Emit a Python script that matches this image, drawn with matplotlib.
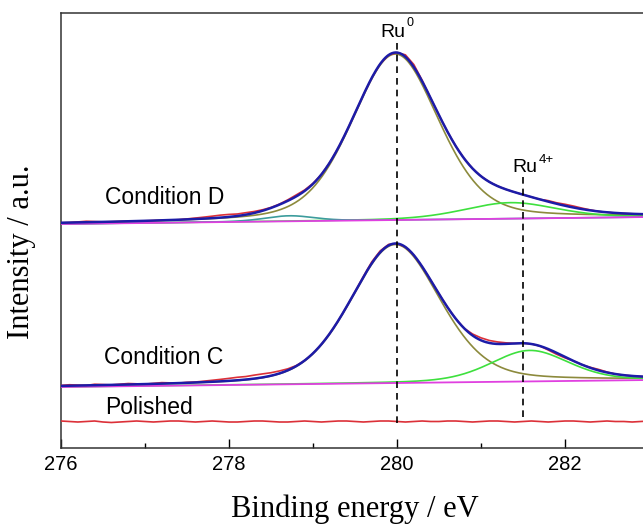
import matplotlib
matplotlib.use('Agg')
import numpy as np
import matplotlib.pyplot as plt

# Ru 3d XPS spectra with peak fits

# measured energy grid (eV)
energy = np.round(np.arange(276.0, 283.05, 0.1), 1)

# fit parameters: Ru0, Ru4+, small low-energy component
d_centres = [279.98, 281.35, 278.72]
d_heights = [166, 16, 5.5]
d_fwhm = [1.22, 1.3, 0.7]
d_lor = [0.3, 0.3, 0.3]
d_background = [224, 231]      # linear background at 276 / 283 eV

c_centres = [279.98, 281.58]
c_heights = [138.5, 31]
c_fwhm = [1.26, 1.1]
c_lor = [0.3, 0.3]
c_background = [61, 68]

polished_level = 26.5

# measured minus fit envelope
d_residual = [0, 0, 0.5, 1, 0.5, 0, 0, 0, 0, 0,
              0, 0, 0, 0, 0, 0.5, 1, 1.5, 2, 2.5,
              2.5, 2, 2, 1.5, 1, 0.5, 0.5, 1, 1.5, 1,
              0.5, 0, 0, 0, 0, 0, 0, 0, 0, 0,
              0, 2, 2.5, 1, 0, 0, 0, 0, 0, 0,
              0, 0, 0, 0, 0, 0, 0, 0, 1, 1,
              1.5, 1.5, 1, 0.5, 0, 0, 0, 0, 0, 0, 0]
c_residual = [0.5, 1, 0.5, 0, 1, 0.5, 0, 0.5, 1, 0.5,
              0, 0.5, 1, 0.5, 0, 0.5, 0.5, 1, 1.5, 2,
              2.5, 3, 3, 3.5, 3.5, 3, 2.5, 1.5, 0.5, 0,
              0, 0, 0, 0, 0, 0, 0.5, 1.5, 1.5, 1,
              0, 0, 0, 0, 0, 0, 0, 0, 0, 1.5,
              2.5, 2.5, 2, 1, 0, 0, 0, 0, -1, -1.5,
              -1, 0, 0, 0.5, 1, 0.5, 0, 0, 0, 0, 0]
polished_wiggle = [0.5, 0, -0.5, 0, 0.5, -0.5, -1, -0.5, 0, 0.5,
                   0, -0.5, 0, 0.5, 0.5, 0, -0.5, 0, 0.5, 0,
                   -0.5, -0.5, 0, 0.5, 0.5, 0, -0.5, -0.5, 0, 0.5,
                   0, -0.5, 0, 0.5, 0.5, 0, -0.5, 0, 0.5, 0.5,
                   0, -0.5, 0, 0.5, 0, 0, 0.5, 0.5, 0, -0.5,
                   0, 0.5, 0.5, 0, -0.5, 0, 0.5, 0, -0.5, 0,
                   0.5, 0.5, 0, -0.5, 0, 0.5, 0, 0, -0.5, 0, 0.5]

peak_positions = [280.0, 281.5]
peak_sups = ['0', '4+']


def gl(x, c, h, w, m):
    # Gaussian-Lorentzian (pseudo-Voigt) line shape
    g = np.exp(-4 * np.log(2) * (x - c) ** 2 / w ** 2)
    l = 1 / (1 + 4 * (x - c) ** 2 / w ** 2)
    return h * ((1 - m) * g + m * l)


def background(x, ends):
    slope = (ends[1] - ends[0]) / 7.0
    return ends[0] + slope * (x - 276.0)


x_fit = np.linspace(276, 284, 801)

fig = plt.figure(figsize=(6.43, 5.24), dpi=100)
ax = fig.add_axes([61 / 643, 76 / 524, 672 / 643, 435 / 524])

comp_colors = ['#8c8a3c', '#3ee03e', '#3c9c9c']
sans = 'Liberation Sans'
serif = 'Liberation Serif'

# Polished: raw only
ax.plot(energy, polished_level + np.array(polished_wiggle), color='#dc3038', lw=1.2, zorder=4)

for centres, heights, fwhm, lor, ends, resid in [
        (d_centres, d_heights, d_fwhm, d_lor, d_background, d_residual),
        (c_centres, c_heights, c_fwhm, c_lor, c_background, c_residual)]:
    bg_fit = background(x_fit, ends)
    env = bg_fit.copy()
    for k in range(len(centres)):
        comp = gl(x_fit, centres[k], heights[k], fwhm[k], lor[k])
        env += comp
        ax.plot(x_fit, bg_fit + comp, color=comp_colors[k], lw=1.2, zorder=2)
    ax.plot(x_fit, bg_fit, color='#e040e0', lw=1.3, zorder=3)
    # raw spectrum
    raw = background(energy, ends) + np.array(resid)
    for k in range(len(centres)):
        raw = raw + gl(energy, centres[k], heights[k], fwhm[k], lor[k])
    ax.plot(energy, raw, color='#dc3038', lw=1.2, zorder=4)
    ax.plot(x_fit, env, color='#1c1ca8', lw=1.8, zorder=5)

# reference positions
ax.vlines(peak_positions[0], 25, 409, colors='black', linestyles=(0, (4, 3)), lw=1.2, zorder=6)
ax.vlines(peak_positions[1], 31, 274, colors='black', linestyles=(0, (4, 3)), lw=1.2, zorder=6)
ax.text(279.80, 411, 'Ru', fontsize=14, family=sans, ha='left', va='baseline')
ax.text(280.11, 422, peak_sups[0], fontsize=9, family=sans, ha='left', va='baseline')
ax.text(281.37, 276, 'Ru', fontsize=14, family=sans, ha='left', va='baseline')
ax.text(281.69, 285, peak_sups[1], fontsize=9.5, family=sans, ha='left', va='baseline')

ax.text(276.52, 250, 'Condition D', fontsize=16.5, family=sans, va='center')
ax.text(276.51, 91, 'Condition C', fontsize=16.5, family=sans, va='center')
ax.text(276.52, 41, 'Polished', fontsize=16.5, family=sans, va='center')

ax.set_xlim(276, 284)
ax.set_ylim(0, 435)
ax.set_xticks([276, 278, 280, 282])
ax.set_xticks([277, 279, 281, 283], minor=True)
ax.set_yticks([])
ax.tick_params(axis='x', which='major', direction='in', length=6.5, width=1.0, pad=5,
               labelsize=14.5)
ax.tick_params(axis='x', which='minor', direction='in', length=3.5, width=1.0)
for lab in ax.get_xticklabels():
    lab.set_family(sans)
for s in ax.spines.values():
    s.set_linewidth(1.1)
    s.set_color('#333333')

fig.text(355 / 643, 7 / 524, 'Binding energy / eV', fontsize=22, family=serif,
         ha='center', va='baseline')
fig.text(22 / 643, 272 / 524, 'Intensity / a.u.', fontsize=22, family=serif,
         ha='center', va='center', rotation=90)

fig.savefig('out.png', dpi=100)
